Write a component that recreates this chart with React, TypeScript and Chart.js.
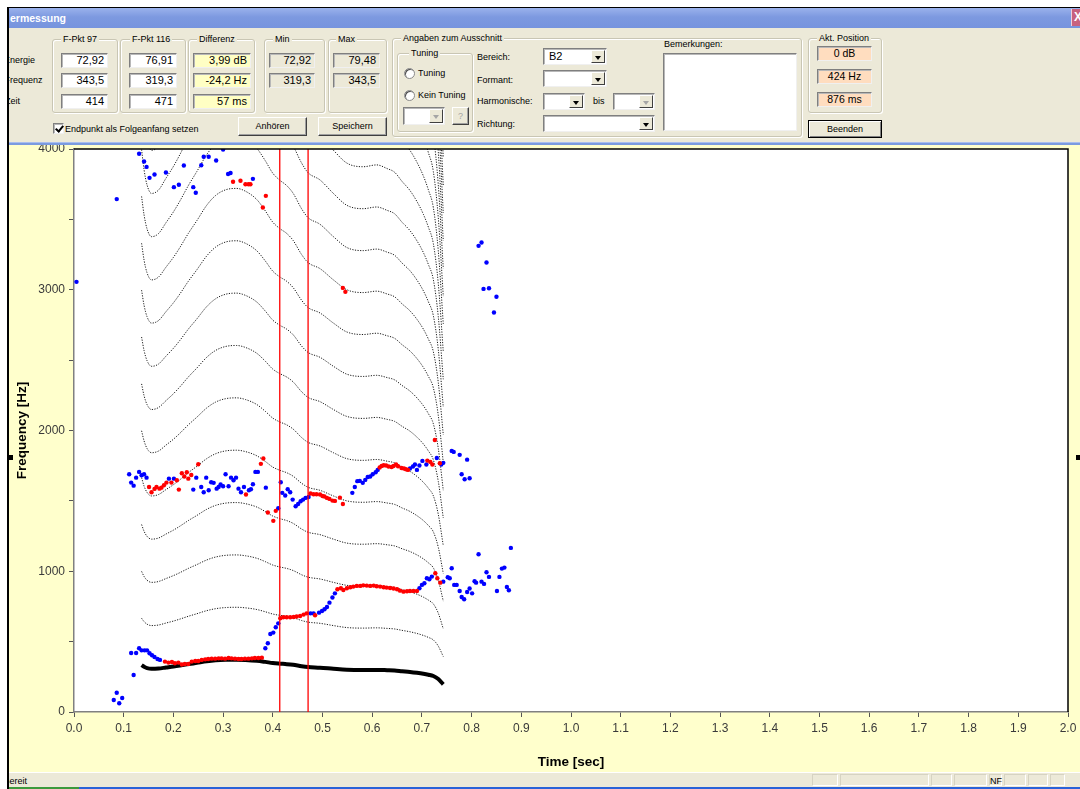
import React, { useEffect, useRef } from 'react';
import { Chart, registerables } from 'chart.js';

Chart.register(...registerables);

// ---- F0 contour (s, Hz); harmonic overlays are drawn at k × F0 ----
const f0Times = [0.136, 0.141, 0.147, 0.156, 0.170, 0.185, 0.200, 0.213, 0.230, 0.247, 0.267, 0.285, 0.305, 0.327, 0.345, 0.368, 0.385, 0.400, 0.414, 0.428, 0.441, 0.458, 0.471, 0.495, 0.522, 0.549, 0.582, 0.609, 0.630, 0.645, 0.660, 0.676, 0.690, 0.703, 0.713, 0.723, 0.733, 0.743];
const f0Hz = [333, 321, 312, 307, 309, 316, 323, 330, 340, 349, 360, 367, 371, 372, 370, 364, 356, 348, 343.5, 340, 335, 325, 319.3, 315, 307, 300, 298, 299, 297, 295, 290, 285, 279, 272, 265, 256, 234, 197];
const harmonicNumbers = [2, 3, 4, 5, 6, 7, 8, 9, 10, 11, 12, 13, 14, 15, 16, 17, 18, 19, 20, 21];

// ---- measurement cursors (s) ----
const cursorTimes = [0.414, 0.471];

// ---- tracked formant points [s, Hz] ----
const blueHigh = [
  [0.005, 3056], [0.086, 3644], [0.131, 3966], [0.141, 3911], [0.146, 3873], [0.152, 3795], [0.162, 3819], [0.185, 3833],
  [0.201, 3729], [0.211, 3746], [0.221, 3883], [0.240, 3729], [0.245, 3689], [0.256, 3885], [0.261, 3945], [0.271, 3945],
  [0.286, 3918], [0.300, 3996], [0.310, 3822], [0.315, 3829], [0.360, 3788],
  [0.814, 3312], [0.820, 3336], [0.830, 3194], [0.824, 3006], [0.835, 3011], [0.850, 2950], [0.845, 2838],
];
const blueMid = [
  [0.111, 1689], [0.115, 1630], [0.120, 1608], [0.125, 1665], [0.131, 1706], [0.136, 1682], [0.141, 1689], [0.146, 1665],
  [0.191, 1658], [0.201, 1658], [0.240, 1580], [0.246, 1665], [0.256, 1599], [0.261, 1561], [0.266, 1665], [0.271, 1576],
  [0.276, 1632], [0.281, 1628], [0.287, 1587], [0.291, 1599], [0.295, 1616], [0.300, 1604], [0.305, 1689], [0.311, 1604],
  [0.316, 1665], [0.321, 1647], [0.326, 1665], [0.331, 1587], [0.336, 1561], [0.342, 1599], [0.352, 1576], [0.356, 1583],
  [0.360, 1618], [0.365, 1706], [0.370, 1706], [0.386, 1594], [0.411, 1448], [0.416, 1632], [0.419, 1557], [0.425, 1538],
  [0.430, 1583], [0.435, 1561], [0.440, 1509], [0.446, 1462], [0.451, 1478], [0.456, 1497], [0.461, 1509], [0.466, 1521],
  [0.472, 1528], [0.560, 1557], [0.565, 1599], [0.570, 1640], [0.575, 1642], [0.581, 1628], [0.586, 1649], [0.591, 1670],
  [0.596, 1673], [0.601, 1689], [0.607, 1703], [0.611, 1720], [0.676, 1730], [0.682, 1744], [0.686, 1758], [0.690, 1720],
  [0.695, 1751], [0.701, 1784], [0.709, 1758], [0.730, 1805], [0.739, 1758], [0.743, 1770], [0.760, 1855], [0.764, 1848],
  [0.776, 1827], [0.791, 1793], [0.780, 1689], [0.786, 1654], [0.796, 1661],
];
const blueLow = [
  [0.080, 85], [0.086, 137], [0.091, 62], [0.097, 100], [0.120, 263], [0.115, 419], [0.125, 419], [0.131, 453],
  [0.136, 438], [0.142, 438], [0.147, 438], [0.152, 417], [0.157, 403], [0.162, 391], [0.168, 377], [0.173, 370],
  [0.385, 453], [0.390, 488], [0.395, 554], [0.401, 564], [0.406, 602], [0.411, 630],
  [0.476, 701], [0.482, 701], [0.493, 706], [0.499, 718], [0.504, 730], [0.509, 746], [0.514, 777], [0.520, 813], [0.525, 843],
  [0.695, 879], [0.700, 903], [0.705, 915], [0.710, 950], [0.715, 943], [0.720, 962], [0.743, 926], [0.752, 957],
  [0.756, 950], [0.760, 1021], [0.765, 903], [0.770, 903], [0.776, 860], [0.780, 817], [0.785, 801], [0.791, 853],
  [0.796, 877], [0.801, 843], [0.806, 929], [0.809, 919], [0.814, 1121], [0.820, 926], [0.825, 910], [0.830, 993],
  [0.835, 960], [0.851, 860], [0.856, 960], [0.861, 1019], [0.866, 1026], [0.871, 888], [0.875, 865], [0.879, 1166],
];
const redHigh = [
  [0.320, 3767], [0.335, 3774], [0.345, 3750], [0.351, 3750], [0.355, 3750], [0.380, 3584], [0.386, 3667],
  [0.541, 3013], [0.546, 2985],
];
const redMid = [
  [0.151, 1599], [0.156, 1561], [0.162, 1585], [0.166, 1599], [0.172, 1587], [0.176, 1594], [0.181, 1611], [0.186, 1630],
  [0.196, 1630], [0.207, 1647], [0.211, 1580], [0.217, 1696], [0.222, 1673], [0.227, 1703], [0.230, 1658], [0.236, 1684],
  [0.250, 1760], [0.346, 1545], [0.376, 1763], [0.381, 1801], [0.390, 1417], [0.401, 1358], [0.406, 1429],
  [0.476, 1552], [0.482, 1547], [0.488, 1547], [0.495, 1545], [0.500, 1535], [0.504, 1531], [0.509, 1521], [0.514, 1514],
  [0.520, 1502], [0.525, 1500], [0.535, 1523], [0.541, 1478],
  [0.615, 1737], [0.619, 1748], [0.623, 1753], [0.628, 1751], [0.633, 1744], [0.639, 1741], [0.643, 1748], [0.648, 1758],
  [0.652, 1746], [0.659, 1734], [0.664, 1730], [0.668, 1725], [0.672, 1720], [0.711, 1786], [0.717, 1777], [0.721, 1758],
  [0.726, 1933], [0.736, 1767],
];
const redLow = [
  [0.183, 358], [0.190, 351], [0.197, 355], [0.203, 346], [0.210, 351], [0.217, 337], [0.223, 341], [0.230, 341],
  [0.237, 358], [0.244, 362], [0.250, 362], [0.257, 370], [0.264, 374], [0.270, 377], [0.277, 379], [0.284, 379],
  [0.291, 381], [0.297, 381], [0.304, 379], [0.311, 384], [0.317, 381], [0.324, 379], [0.331, 377], [0.337, 377],
  [0.344, 379], [0.351, 379], [0.358, 381], [0.364, 384], [0.371, 384], [0.378, 386],
  [0.415, 666], [0.421, 673], [0.428, 673], [0.435, 673], [0.442, 675], [0.448, 678], [0.455, 682], [0.462, 692],
  [0.468, 701], [0.485, 687],
  [0.530, 872], [0.537, 879], [0.542, 867], [0.549, 879], [0.556, 886], [0.562, 891], [0.569, 896], [0.576, 896],
  [0.582, 900], [0.589, 898], [0.596, 896], [0.603, 898], [0.609, 893], [0.616, 891], [0.623, 886], [0.629, 884],
  [0.636, 881], [0.643, 877], [0.650, 872], [0.656, 862], [0.663, 855], [0.670, 858], [0.676, 860], [0.683, 860],
  [0.690, 860], [0.727, 986], [0.731, 950], [0.737, 919],
];

// ---- axis labelling ----
const yLabelValues = [0, 1000, 2000, 3000, 4000];
const timeRange = [0, 2];
const freqRange = [0, 4000];

const PANEL = '#ECE9D8';
const FONT = '"Liberation Sans", Arial, sans-serif';
const OX = 9;
const OY = 8;

const pts = (arr: number[][]) => arr.map(([x, y]) => ({ x, y }));

function at(x: number, y: number, w?: number, h?: number): React.CSSProperties {
  return { position: 'absolute', left: x - OX, top: y - OY, width: w, height: h, boxSizing: 'border-box' };
}

const sunken = {
  borderStyle: 'solid',
  borderWidth: 1,
  borderColor: '#7F7F7F #F0F0F0 #F0F0F0 #7F7F7F',
  boxShadow: 'inset 1px 1px 0 #B8B8B8',
} as React.CSSProperties;

function Label({ x, y, text, size = 9, color = '#000' }: any) {
  return (
    <div style={{ ...at(x, y - 7), height: 14, lineHeight: '14px', fontSize: size, color, whiteSpace: 'nowrap' }}>{text}</div>
  );
}

function Group({ x, y, w, h, title, tx }: any) {
  return (
    <>
      <div style={{ ...at(x, y, w, h), border: '1px solid #C9C6B4', borderRadius: 3, boxShadow: '1px 1px 0 #FFFFFF, inset 1px 1px 0 #FFFFFF' }} />
      <div style={{ ...at(tx - 2, y - 7), height: 14, lineHeight: '14px', padding: '0 2px', background: PANEL, fontSize: 9, whiteSpace: 'nowrap' }}>{title}</div>
    </>
  );
}

function Field({ x, y, w, h = 15, text = '', bg = '#FFFFFF', align = 'right', size = 11 }: any) {
  return (
    <div style={{ ...at(x, y, w, h), ...sunken, background: bg, fontSize: size, lineHeight: `${h - 2}px`, textAlign: align, padding: '0 3px', whiteSpace: 'nowrap', overflow: 'hidden' }}>{text}</div>
  );
}

function Combo({ x, y, w, h = 17, text = '', disabled = false }: any) {
  return (
    <div style={{ ...at(x, y, w, h), ...sunken, background: '#FFFFFF', fontSize: 11, lineHeight: `${h - 2}px`, paddingLeft: 5, whiteSpace: 'nowrap' }}>
      {text}
      <div style={{ position: 'absolute', right: 1, top: 1, bottom: 1, width: 14, background: PANEL, borderStyle: 'solid', borderWidth: 1, borderColor: '#FFFFFF #404040 #404040 #FFFFFF', boxSizing: 'border-box' }}>
        <div style={{ position: 'absolute', left: 2.5, top: 5, width: 0, height: 0, borderLeft: '3.5px solid transparent', borderRight: '3.5px solid transparent', borderTop: `4px solid ${disabled ? '#A5A5A5' : '#000'}` }} />
      </div>
    </div>
  );
}

function Button({ x, y, w, h, text, isDefault = false, disabled = false }: any) {
  return (
    <div style={{ ...at(x, y, w, h), background: PANEL, borderStyle: 'solid', borderWidth: 1, borderColor: isDefault ? '#000' : '#FFFFFF #404040 #404040 #FFFFFF', boxShadow: isDefault ? 'inset 1px 1px 0 #FFFFFF, inset -1px -1px 0 #808080' : 'inset -1px -1px 0 #A0A0A0', fontSize: 9, textAlign: 'center', lineHeight: `${h - 2}px`, color: disabled ? '#A5A5A5' : '#000' }}>{text}</div>
  );
}

function Radio({ x, y }: any) {
  return <div style={{ ...at(x, y, 11, 11), borderRadius: '50%', background: '#FFFFFF', border: '1px solid #8A8A8A', boxShadow: 'inset 1px 1px 0 #505050' }} />;
}

function CheckBox({ x, y }: any) {
  return (
    <div style={{ ...at(x, y, 11, 11), ...sunken, background: '#FFFFFF' }}>
      <div style={{ position: 'absolute', left: 3, top: 0, width: 3, height: 6, borderRight: '2px solid #000', borderBottom: '2px solid #000', transform: 'rotate(40deg)' }} />
    </div>
  );
}

const framePlugin = {
  id: 'plotFrame',
  beforeDraw(chart: any) {
    const { ctx, chartArea: a, width, height } = chart;
    ctx.save();
    ctx.fillStyle = '#FFFFCC';
    ctx.fillRect(0, 0, width, height);
    ctx.fillStyle = '#FFFFFF';
    ctx.fillRect(a.left, a.top, a.right - a.left, a.bottom - a.top);
    ctx.restore();
  },
  afterDraw(chart: any) {
    const { ctx, chartArea: a } = chart;
    ctx.save();
    ctx.strokeStyle = '#000000';
    ctx.lineWidth = 1.5;
    ctx.beginPath();
    ctx.moveTo(a.left, a.top);
    ctx.lineTo(a.right, a.top);
    ctx.lineTo(a.right, a.bottom);
    ctx.stroke();
    ctx.restore();
  },
};

function Spectrogram() {
  const ref = useRef<HTMLCanvasElement | null>(null);
  useEffect(() => {
    if (!ref.current) return;
    const harmonicSets = harmonicNumbers.map((k) => ({
      label: `H${k}`,
      data: f0Times.map((t, i) => ({ x: t, y: k * f0Hz[i] })),
      showLine: true,
      borderColor: '#1A1A1A',
      borderWidth: 1,
      borderDash: [1.2, 1.4],
      pointRadius: 0,
      cubicInterpolationMode: 'monotone',
      order: 4,
    }));
    const cursorSets = cursorTimes.map((t) => ({
      label: `cursor ${t}`,
      data: [{ x: t, y: freqRange[0] }, { x: t, y: freqRange[1] }],
      showLine: true,
      borderColor: '#FF0000',
      borderWidth: 1.3,
      pointRadius: 0,
      order: 0,
    }));
    const chart = new Chart(ref.current, {
      type: 'scatter',
      data: {
        datasets: [
          ...cursorSets,
          {
            label: 'selected',
            data: pts([...redHigh, ...redMid, ...redLow]),
            pointRadius: 2.2,
            pointBorderWidth: 0,
            backgroundColor: '#FF0000',
            borderColor: '#FF0000',
            order: 1,
          },
          {
            label: 'tracked',
            data: pts([...blueHigh, ...blueMid, ...blueLow]),
            pointRadius: 2.2,
            pointBorderWidth: 0,
            backgroundColor: '#0000FF',
            borderColor: '#0000FF',
            order: 2,
          },
          {
            label: 'F0',
            data: f0Times.map((t, i) => ({ x: t, y: f0Hz[i] })),
            showLine: true,
            borderColor: '#000000',
            borderWidth: 4,
            pointRadius: 0,
            cubicInterpolationMode: 'monotone',
            order: 3,
          },
          ...harmonicSets,
        ] as any,
      },
      options: {
        animation: false,
        responsive: false,
        events: [],
        layout: { padding: { top: 4, right: 12, left: 0, bottom: 0 } },
        plugins: { legend: { display: false }, tooltip: { enabled: false } },
        scales: {
          x: {
            type: 'linear',
            min: timeRange[0],
            max: timeRange[1],
            afterFit: (s: any) => { s.height = 60; s.paddingLeft = 0; s.paddingRight = 0; },
            ticks: {
              stepSize: 0.1,
              autoSkip: false,
              maxRotation: 0,
              padding: 4,
              color: '#3A3A3A',
              font: { family: FONT, size: 12 },
              callback: (v: any) => Number(v).toFixed(1),
            },
            grid: { display: true, drawOnChartArea: false, drawTicks: true, tickLength: 5, color: '#555555' },
            border: { display: true, color: '#808080', width: 1.5 },
            title: { display: true, text: 'Time [sec]', color: '#000', font: { family: FONT, size: 13.5, weight: 'bold' }, padding: { top: 0, bottom: 2 } },
          },
          y: {
            type: 'linear',
            min: freqRange[0],
            max: freqRange[1],
            afterFit: (s: any) => { s.width = 65; s.paddingTop = 0; s.paddingBottom = 0; },
            ticks: {
              stepSize: 500,
              padding: 4,
              color: '#3A3A3A',
              font: { family: FONT, size: 12 },
              callback: (v: any) => (yLabelValues.includes(Number(v)) ? String(v) : ''),
            },
            grid: { display: true, drawOnChartArea: false, drawTicks: true, tickLength: 5, color: '#555555' },
            border: { display: true, color: '#808080', width: 1.5 },
            title: { display: true, text: 'Frequency [Hz]', color: '#000', font: { family: FONT, size: 13.5, weight: 'bold' }, padding: { top: 5, bottom: 0 } },
          },
        },
      } as any,
      plugins: [framePlugin],
    });
    return () => chart.destroy();
  }, []);
  return (
    <div style={{ ...at(9, 145, 1071, 627) }}>
      <canvas ref={ref} width={1071} height={627} style={{ display: 'block', width: 1071, height: 627 }} />
    </div>
  );
}

export default function App() {
  return (
    <div style={{ position: 'fixed', left: 0, top: 0, width: 1080, height: 789, background: '#FFFFFF', overflow: 'hidden', fontFamily: FONT, color: '#000' }}>
      <div style={{ position: 'absolute', left: 7, top: 6.5, width: 1073, height: 1.5, background: '#000' }} />
      <div style={{ position: 'absolute', left: 7, top: 7, width: 2, height: 782, background: '#000' }} />
      <div style={{ position: 'absolute', left: OX, top: OY, width: 1080 - OX, height: 789 - OY, overflow: 'hidden', background: PANEL }}>
        {/* title bar */}
        <div style={{ ...at(OX, 8, 1071, 20), background: 'linear-gradient(#9AB2EC, #7D99E0 45%, #7694DE)' }} />
        <div style={{ ...at(10, 9, 200, 18), lineHeight: '18px', fontSize: 10.5, fontWeight: 'bold', color: '#FFFFFF', whiteSpace: 'nowrap' }}>ermessung</div>
        <div style={{ ...at(1071, 9, 12, 17), background: '#C8627F', borderLeft: '1px solid #F2D0DA', color: '#FFF', fontWeight: 'bold', fontSize: 12, lineHeight: '17px', paddingLeft: 2 }}>X</div>

        {/* measurement groups */}
        <Label x={4} y={60} text="Energie" />
        <Label x={4.5} y={80} text="Frequenz" />
        <Label x={5} y={101} text="Zeit" />

        <Group x={52} y={39} w={66} h={74} title="F-Pkt 97" tx={63} />
        <Field x={61} y={53} w={47} text="72,92" />
        <Field x={61} y={73} w={47} text="343,5" />
        <Field x={61} y={94} w={47} text="414" />

        <Group x={120} y={39} w={66} h={74} title="F-Pkt 116" tx={132} />
        <Field x={129} y={53} w={48} text="76,91" />
        <Field x={129} y={73} w={48} text="319,3" />
        <Field x={129} y={94} w={48} text="471" />

        <Group x={188} y={39} w={67} h={74} title="Differenz" tx={199} />
        <Field x={193} y={53} w={58} text="3,99 dB" bg="#FFFFC4" />
        <Field x={193} y={73} w={58} text="-24,2 Hz" bg="#FFFFC4" />
        <Field x={193} y={94} w={58} text="57 ms" bg="#FFFFC4" />

        <Group x={264} y={39} w={61} h={74} title="Min" tx={275} />
        <Field x={269} y={53} w={46} text="72,92" bg={PANEL} />
        <Field x={269} y={73} w={46} text="319,3" bg={PANEL} />

        <Group x={328} y={39} w={59} h={74} title="Max" tx={338} />
        <Field x={333} y={53} w={47} text="79,48" bg={PANEL} />
        <Field x={333} y={73} w={47} text="343,5" bg={PANEL} />

        <CheckBox x={53} y={123} />
        <Label x={65} y={129} text="Endpunkt als Folgeanfang setzen" />
        <Button x={238} y={117} w={69} h={19} text="Anhören" />
        <Button x={318} y={117} w={69} h={19} text="Speichern" />

        {/* section details */}
        <Group x={392} y={38} w={410} h={99} title="Angaben zum Ausschnitt" tx={403} />
        <Group x={397} y={53} w={76} h={79} title="Tuning" tx={411} />
        <Radio x={404} y={68} />
        <Label x={418} y={73} text="Tuning" />
        <Radio x={404} y={90} />
        <Label x={418} y={95} text="Kein Tuning" />
        <Combo x={403} y={107} w={42} h={18} disabled />
        <Button x={452} y={107} w={17} h={18} text="?" disabled />

        <Label x={477} y={57} text="Bereich:" />
        <Label x={477} y={80} text="Formant:" />
        <Label x={477} y={101} text="Harmonische:" />
        <Label x={477} y={124} text="Richtung:" />
        <Combo x={543} y={48} w={64} text="B2" />
        <Combo x={543} y={70} w={64} />
        <Combo x={543} y={93} w={42} />
        <Label x={593} y={101} text="bis" />
        <Combo x={613} y={93} w={42} disabled />
        <Combo x={543} y={115} w={112} />

        <Label x={664} y={44} text="Bemerkungen:" />
        <div style={{ ...at(663, 53, 134, 78), ...sunken, background: '#FFFFFF' }} />

        <Group x={808} y={38} w={74} h={75} title="Akt. Position" tx={819} />
        <Field x={817} y={46} w={55} text="0 dB" bg="#FFDDBF" align="center" size={10.5} />
        <Field x={817} y={69} w={55} text="424 Hz" bg="#FFDDBF" align="center" size={10.5} />
        <Field x={817} y={92} w={55} text="876 ms" bg="#FFDDBF" align="center" size={10.5} />
        <Button x={808} y={120} w={74} h={18} text="Beenden" isDefault />

        {/* separator */}
        <div style={{ ...at(OX, 142, 1071, 3), background: '#7B9BE0', borderTop: '1px solid #A9BEEF' }} />

        <Spectrogram />

        <div style={{ ...at(OX, 455, 4, 5), background: '#000' }} />
        <div style={{ ...at(1076, 455, 4, 5), background: '#000' }} />

        {/* status bar */}
        <div style={{ ...at(OX, 772, 1071, 15), background: PANEL, borderTop: '1px solid #FFFFFF' }} />
        <Label x={3.5} y={781} text="Bereit" />
        {[812, 840, 931, 954, 989, 1004, 1028, 1050].map((x, i, arr) => (
          <div key={x} style={{ ...at(x, 774, (arr[i + 1] ?? 1067) - x - 2, 12), borderStyle: 'solid', borderWidth: 1, borderColor: '#D6D3C2 #FFFFFF #FFFFFF #D6D3C2' }} />
        ))}
        <Label x={990} y={781} text="NF" />
        <div style={{ ...at(OX, 787, 70, 2), background: '#3C9A3C' }} />
        <div style={{ ...at(79, 787, 1001, 2), background: '#2A62D8' }} />
      </div>
    </div>
  );
}
